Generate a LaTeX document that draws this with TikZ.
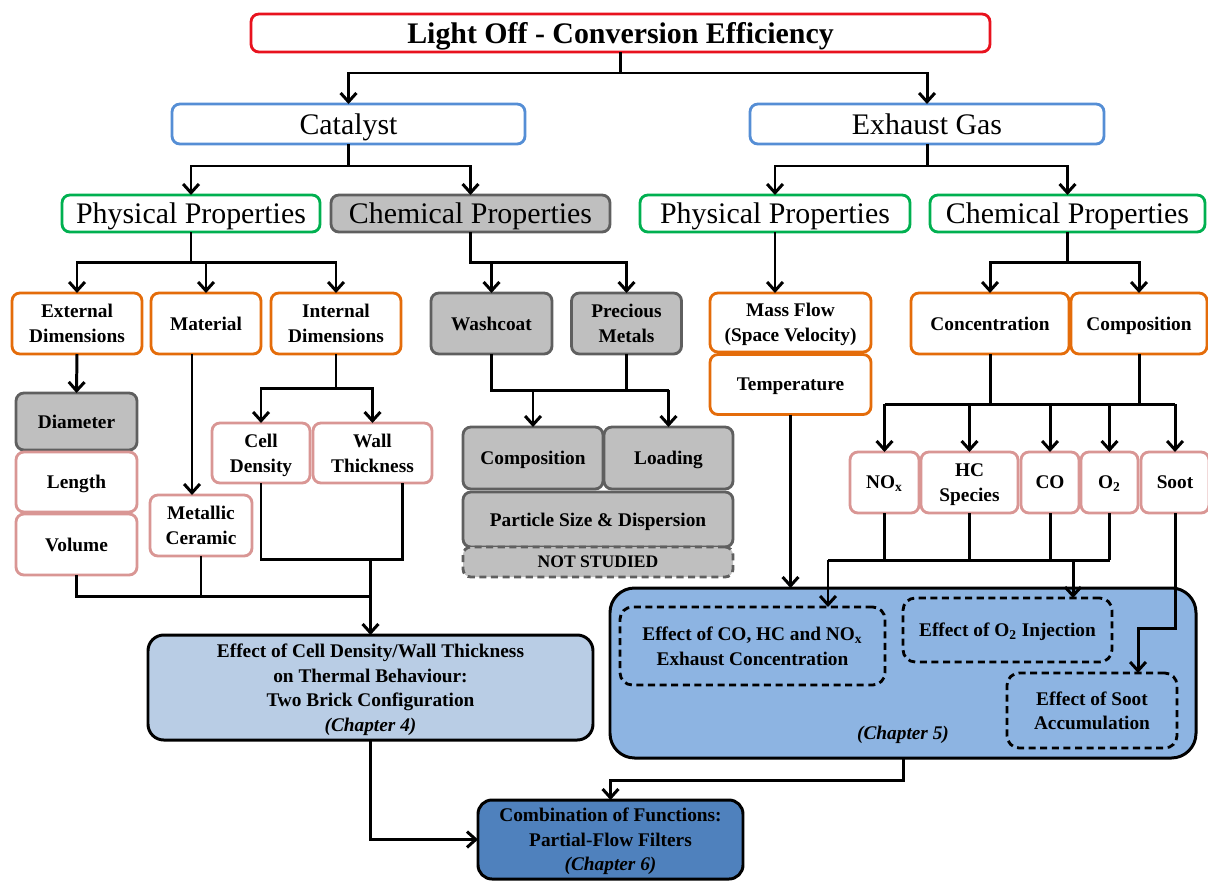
\documentclass[tikz,border=0pt]{standalone}
\usepackage{fontspec}
\setmainfont{Liberation Serif}
\usetikzlibrary{arrows.meta,calc}

\definecolor{rotR}{RGB}{232,18,30}
\definecolor{blauR}{RGB}{85,142,213}
\definecolor{gruenR}{RGB}{0,176,80}
\definecolor{orangeR}{RGB}{228,108,10}
\definecolor{rosaR}{RGB}{217,150,148}
\definecolor{grauR}{RGB}{95,95,95}
\definecolor{grauF}{RGB}{191,191,191}
\definecolor{kap4F}{RGB}{185,205,229}
\definecolor{kap5F}{RGB}{141,180,226}
\definecolor{kap6F}{RGB}{79,129,189}

\tikzset{
    sz/.style 2 args={minimum width=#1*0.02cm, minimum height=#2*0.02cm},
    box/.style={draw, fill=white, rounded corners=4.5pt, line width=1.6pt,
        align=center, inner sep=0pt, outer sep=0pt, text depth=0pt,
        font=\bfseries\fontsize{11}{14}\selectfont},
    topbox/.style={box, draw=blauR, font=\fontsize{17}{20}\selectfont},
    propbox/.style={box, draw=gruenR, font=\fontsize{17}{20}\selectfont},
    orangebox/.style={box, draw=orangeR},
    rosabox/.style={box, draw=rosaR},
    graubox/.style={box, draw=grauR, fill=grauF},
    effbox/.style={box, draw=black, fill=kap5F, dash pattern=on 4pt off 2.6pt, rounded corners=7pt},
    kapbox/.style={box, draw=black, line width=1.7pt},
    linie/.style={line width=1.7pt},
    pfeil/.style={linie, -{Straight Barb[length=5pt,width=9pt]}}
}

\begin{document}
\begin{tikzpicture}[x=0.02cm,y=-0.02cm]
    \useasboundingbox (0,0) rectangle (1208,880);

    % Kopf
    \node[box, draw=rotR, sz={739}{38}, font=\bfseries\fontsize{17}{20}\selectfont] (title) at (620.5,33) {Light Off - Conversion Efficiency};

    \node[topbox, sz={353}{40}] (cat) at (348.5,124) {Catalyst};
    \node[topbox, sz={354}{40}] (gas) at (927,124) {Exhaust Gas};

    % Eigenschaften
    \node[propbox, sz={258}{37}] (cphys) at (191,213.5) {Physical Properties};
    \node[propbox, draw=grauR, fill=grauF, sz={279}{37}] (cchem) at (470.5,213.5) {Chemical Properties};
    \node[propbox, sz={270}{37}] (gphys) at (775,213.5) {Physical Properties};
    \node[propbox, sz={275}{37}] (gchem) at (1067.5,213.5) {Chemical Properties};

    % Katalysator
    \node[orangebox, sz={130}{61}] (extdim) at (77,323.5) {External\\Dimensions};
    \node[orangebox, sz={110}{61}] (material) at (206,323.5) {Material};
    \node[orangebox, sz={130}{61}] (intdim) at (336,323.5) {Internal\\Dimensions};
    \node[graubox, sz={121}{61}] (washcoat) at (491.5,323.5) {Washcoat};
    \node[graubox, sz={110}{61}] (precious) at (626.5,323.5) {Precious\\Metals};

    \node[graubox, sz={121}{57}] (diameter) at (76.5,421.5) {Diameter};
    \node[rosabox, sz={121}{60}] (length) at (76.5,482) {Length};
    \node[rosabox, sz={121}{61}] (volume) at (76.5,544.5) {Volume};
    \node[rosabox, sz={102}{61}] (metallic) at (201,525.5) {Metallic\\Ceramic};
    \node[rosabox, sz={98}{60}] (celldens) at (261,453) {Cell\\Density};
    \node[rosabox, sz={119}{60}] (wallthick) at (372.5,453) {Wall\\Thickness};

    \node[graubox, sz={140}{62}] (compcat) at (533,458) {Composition};
    \node[graubox, sz={129}{62}] (loading) at (668.5,458) {Loading};
    \node[graubox, sz={270}{55}] (particle) at (598,519.5) {Particle Size \& Dispersion};
    \node[graubox, dash pattern=on 4pt off 2.6pt, sz={270}{30}, font=\bfseries\fontsize{10}{12}\selectfont] (notstudied) at (598,562) {NOT STUDIED};

    % Abgas
    \node[orangebox, sz={161}{59}] (massflow) at (790.5,322.5) {Mass Flow\\(Space Velocity)};
    \node[orangebox, sz={161}{60}] (temp) at (790.5,384.5) {Temperature};
    \node[orangebox, sz={158}{61}] (conc) at (990,323.5) {Concentration};
    \node[orangebox, sz={136}{61}] (comp) at (1139,323.5) {Composition};

    \node[rosabox, sz={69}{61}] (nox) at (884.5,482.5) {NO\textsubscript{x}};
    \node[rosabox, sz={97}{61}] (hc) at (969.5,482.5) {HC\\Species};
    \node[rosabox, sz={58}{61}] (co) at (1050,482.5) {CO};
    \node[rosabox, sz={57}{61}] (o2) at (1109.5,482.5) {O\textsubscript{2}};
    \node[rosabox, sz={68}{61}] (soot) at (1175,482.5) {Soot};

    % Kapitel
    \node[kapbox, fill=kap4F, rounded corners=9pt, sz={445}{105}] (ch4) at (370.5,687.5)
        {Effect of Cell Density/Wall Thickness\\on Thermal Behaviour:\\Two Brick Configuration\\\textit{(Chapter 4)}};
    \node[kapbox, fill=kap5F, rounded corners=14pt, sz={586}{170}] (ch5) at (903,673) {};
    \node[effbox, sz={265}{78}] (effco) at (752.5,646) {Effect of CO, HC and NO\textsubscript{x}\\Exhaust Concentration};
    \node[effbox, sz={209}{64}] (effo2) at (1007.5,630) {Effect of O\textsubscript{2} Injection};
    \node[effbox, sz={170}{75}] (effsoot) at (1092,710.5) {Effect of Soot\\Accumulation};
    \node[font=\bfseries\itshape\fontsize{11}{14}\selectfont] (ch5lbl) at (903,735) {(Chapter 5)};
    \node[kapbox, fill=kap6F, rounded corners=8pt, sz={265}{79}] (ch6) at (610.5,839.5)
        {Combination of Functions:\\Partial-Flow Filters\\\textit{(Chapter 6)}};

    % Knotenpunkte
    \coordinate (mk) at (192,354);
    \coordinate (ik) at (370.5,559);
    \coordinate (ek) at (370.5,596);
    \coordinate (wk) at (491.5,390);
    \coordinate (gk) at (990,404);
    \coordinate (uk) at (828,560);
    \coordinate (ok) at (1073,560);
    \coordinate (sk) at (1138,628);

    % Verbindungen oben
    \draw[pfeil] (title.south) -- ++(0,21) -| (cat.north);
    \draw[pfeil] (title.south) -- ++(0,21) -| (gas.north);
    \draw[pfeil] (cat.south) -- ++(0,22) -| (cphys.north);
    \draw[pfeil] (cat.south) -- ++(0,22) -| (cchem.north);
    \draw[pfeil] (gas.south) -- ++(0,22) -| (gphys.north);
    \draw[pfeil] (gas.south) -- ++(0,22) -| (gchem.north);

    \foreach \n in {extdim, material, intdim}
    {
        \draw[pfeil] (cphys.south) -- ++(0,30) -| (\n.north);
    }
    \foreach \n in {washcoat, precious}
    {
        \draw[pfeil] (cchem.south) -- ++(0,30) -| (\n.north);
    }
    \draw[pfeil] (gphys.south) -- (gphys.south |- massflow.north);
    \foreach \n in {conc, comp}
    {
        \draw[pfeil] (gchem.south) -- ++(0,30) -| (\n.north);
    }

    % Katalysator unten
    \draw[pfeil] (extdim.south) -- (diameter.north);
    \draw[pfeil] (mk) -- (mk |- metallic.north);
    \draw[pfeil] (intdim.south) -- ++(0,34) -| (celldens.north);
    \draw[pfeil] (intdim.south) -- ++(0,34) -| (wallthick.north);
    \draw[linie] (celldens.south) |- (ik) -| ($(wallthick.south)+(30,0)$);
    \draw[linie] (volume.south) |- (ek);
    \draw[linie] (metallic.south) -- (metallic.south |- ek);
    \draw[pfeil] (ik) -- (ch4.north);

    \draw[linie] (washcoat.south) -- (wk) -- (wk -| loading.north);
    \draw[linie] (precious.south) -- (precious.south |- wk);
    \draw[pfeil] (wk -| compcat.north) -- (compcat.north);
    \draw[pfeil] (wk -| loading.north) -- (loading.north);

    % Abgas unten
    \draw[pfeil] (temp.south) -- (temp.south |- ch5.north);
    \draw[linie] (conc.south) -- (gk);
    \draw[linie] (comp.south) -- (comp.south |- gk);
    \draw[linie] (gk -| nox.north) -- (gk -| soot.north);
    \foreach \n in {nox, hc, co, o2, soot}
    {
        \draw[pfeil] (gk -| \n.north) -- (\n.north);
    }
    \foreach \n in {nox, hc, co, o2}
    {
        \draw[linie] (\n.south) -- (\n.south |- uk);
    }
    \draw[linie] (uk) -- (uk -| o2.south);
    \draw[pfeil] (uk) -- (uk |- effco.north);
    \draw[pfeil] (ok) -- (ok |- effo2.north);
    \draw[pfeil] (soot.south) |- (sk) -- (sk |- effsoot.north);

    % Zusammenfuehrung
    \draw[pfeil] (ch5.south) -- ++(0,22) -| (ch6.north);
    \draw[pfeil] (ch4.south) |- (ch6.west);
\end{tikzpicture}
\end{document}
